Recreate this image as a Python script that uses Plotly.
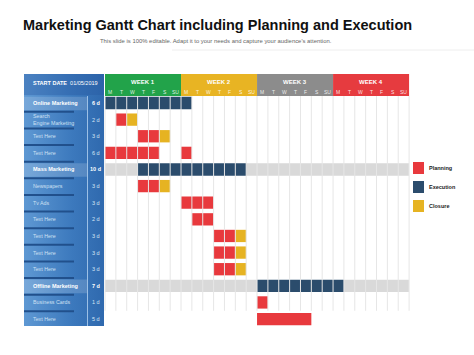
import plotly.graph_objects as go

# ---------------- data ----------------
row_labels = ["Online Marketing", "Search<br>Engine Marketing", "Text Here", "Text Here",
              "Mass Marketing", "Newspapers", "Tv Ads", "Text Here", "Text Here",
              "Text Here", "Text Here", "Offline Marketing", "Business Cards", "Text Here"]
row_durations = ["6 d", "2 d", "3 d", "6 d", "10 d", "3 d", "3 d", "2 d", "3 d",
                 "3 d", "3 d", "7 d", "1 d", "5 d"]
category_rows = [0, 4, 11]

week_labels = ["WEEK 1", "WEEK 2", "WEEK 3", "WEEK 4"]
week_colors = ["#22A34A", "#E8B423", "#8C8C8C", "#E63B3F"]
day_letters = ["M", "T", "W", "T", "F", "S", "SU"]
start_date = "01/05/2019"

# segments: row index, start day, length (days)
planning_rows = [1, 2, 3, 3, 5, 6, 7, 8, 9, 10, 12, 13]
planning_start = [1, 3, 0, 7, 3, 7, 8, 10, 10, 10, 14, 14]
planning_len = [1, 2, 5, 1, 2, 3, 2, 2, 2, 2, 1, 5]

execution_rows = [0, 4, 11]
execution_start = [0, 3, 14]
execution_len = [8, 10, 8]

closure_rows = [1, 2, 5, 8, 9, 10]
closure_start = [2, 5, 5, 12, 12, 12]
closure_len = [1, 1, 1, 1, 1, 1]

idle_rows = [4, 4, 11, 11]
idle_start = [0, 13, 0, 22]
idle_len = [3, 15, 14, 6]

legend_names = ["Planning", "Execution", "Closure"]
legend_colors = ["#E8393D", "#2B4C6C", "#E6B322"]

# ---------------- geometry ----------------
W, H = 474, 355
X0, DW = 105.0, 10.86     # px of day 0, px per day
Y0, RH = 103.0, 16.62     # px of row-0 centre, px per row
N_DAYS = 28


def px_x(p):
    return (p - X0) / DW


def px_y(p):
    return (p - Y0) / RH


fig = go.Figure()

# left panel gradient background
panel_x0, panel_x1, panel_y0, panel_y1 = 24, 104, 74, 326
fig.add_trace(go.Scatter(
    x=[px_x(panel_x0), px_x(panel_x1), px_x(panel_x1), px_x(panel_x0), px_x(panel_x0)],
    y=[px_y(panel_y0), px_y(panel_y0), px_y(panel_y1), px_y(panel_y1), px_y(panel_y0)],
    fill="toself", mode="lines", line=dict(width=0),
    fillgradient=dict(type="horizontal",
                      colorscale=[[0, "#5E98D3"], [0.6, "#3C79BD"], [1, "#2F69AE"]]),
    hoverinfo="skip", showlegend=False))

bar_w = 0.74


def add_bars(rows, starts, lens, color, name):
    fig.add_trace(go.Bar(orientation="h", y=rows, x=lens, base=starts, width=bar_w,
                         marker=dict(color=color, line=dict(width=0)),
                         name=name, showlegend=False, hoverinfo="skip"))


add_bars(idle_rows, idle_start, idle_len, "#D9D9D9", "Idle")
add_bars(planning_rows, planning_start, planning_len, legend_colors[0], "Planning")
add_bars(execution_rows, execution_start, execution_len, legend_colors[1], "Execution")
add_bars(closure_rows, closure_start, closure_len, legend_colors[2], "Closure")

shapes = []
annotations = []
FONT = "Liberation Sans, Arial"

# header week bands
hdr_top, hdr_bot = px_y(74), px_y(96)
for w, (lab, col) in enumerate(zip(week_labels, week_colors)):
    shapes.append(dict(type="rect", xref="x", yref="y", x0=w * 7, x1=w * 7 + 7,
                       y0=hdr_top, y1=hdr_bot, fillcolor=col, line=dict(width=0),
                       layer="above"))
    annotations.append(dict(xref="x", yref="y", x=w * 7 + 3.5, y=px_y(81.5), text="<b>%s</b>" % lab,
                            showarrow=False, font=dict(size=6, color="white", family=FONT)))
    for d, letter in enumerate(day_letters):
        annotations.append(dict(xref="x", yref="y", x=w * 7 + d + 0.5, y=px_y(91.5), text=letter,
                                showarrow=False, font=dict(size=5, color="rgba(255,255,255,0.85)",
                                                            family=FONT)))

# vertical grid lines over grid area (rows 0..12)
for d in range(N_DAYS + 1):
    shapes.append(dict(type="line", xref="x", yref="y", x0=d, x1=d, y0=hdr_bot, y1=12.5,
                       line=dict(color="#E6E6E6", width=1), layer="above"))

# left panel header band
shapes.append(dict(type="rect", xref="x", yref="y", x0=px_x(24), x1=px_x(104),
                   y0=px_y(74), y1=px_y(95), fillcolor="rgba(40,90,160,0.35)",
                   line=dict(width=0), layer="above"))
annotations.append(dict(xref="x", yref="y", x=px_x(31), y=px_y(83), xanchor="left",
                        text="<b>START DATE</b>  " + start_date, showarrow=False,
                        font=dict(size=5.5, color="white", family=FONT)))

# rows in left panel
for i, (lab, dur) in enumerate(zip(row_labels, row_durations)):
    top = Y0 + RH * (i - 0.5)
    is_cat = i in category_rows
    if is_cat:
        shapes.append(dict(type="rect", xref="x", yref="y", x0=px_x(24), x1=px_x(87),
                           y0=px_y(top + 2), y1=px_y(top + RH - 1),
                           fillcolor="rgba(255,255,255,0.16)", line=dict(width=0), layer="above"))
    if i > 0:
        shapes.append(dict(type="line", xref="x", yref="y", x0=px_x(24), x1=px_x(74),
                           y0=px_y(top + 0.5), y1=px_y(top + 0.5),
                           line=dict(color="#21508C", width=2), layer="above"))
    annotations.append(dict(xref="x", yref="y", x=px_x(31), y=i, xanchor="left", align="left",
                            text=("<b>%s</b>" % lab) if is_cat else lab, showarrow=False,
                            font=dict(size=5.5 if is_cat else 5.3,
                                      color="white" if is_cat else "#CFE0F3", family=FONT)))
    annotations.append(dict(xref="x", yref="y", x=px_x(95.5), y=i,
                            text=("<b>%s</b>" % dur) if is_cat else dur, showarrow=False,
                            font=dict(size=5.5, color="white" if is_cat else "#D6E5F5",
                                      family=FONT)))

# duration column separator
shapes.append(dict(type="line", xref="x", yref="y", x0=px_x(87.5), x1=px_x(87.5),
                   y0=px_y(96), y1=px_y(326), line=dict(color="#9CC0E6", width=1), layer="above"))

# legend
leg_tops = [162, 181, 200]
for name, col, t in zip(legend_names, legend_colors, leg_tops):
    shapes.append(dict(type="rect", xref="x", yref="y", x0=px_x(413), x1=px_x(424),
                       y0=px_y(t), y1=px_y(t + 12), fillcolor=col, line=dict(width=0)))
    annotations.append(dict(xref="x", yref="y", x=px_x(427), y=px_y(t + 6), xanchor="left",
                            text="<b>%s</b>" % name, showarrow=False,
                            font=dict(size=5.5, color="#222222", family=FONT)))

# subtitle underline shadow
shapes.append(dict(type="line", xref="paper", yref="paper", x0=172 / W, x1=1,
                   y0=1 - 50 / H, y1=1 - 50 / H, line=dict(color="#EEEEEE", width=1)))

# title + subtitle
annotations.append(dict(xref="paper", yref="paper", x=217 / W, y=1 - 25 / H,
                        xanchor="center", yanchor="middle",
                        text="<b>Marketing Gantt Chart including Planning and Execution</b>",
                        showarrow=False,
                        font=dict(size=14.5, color="#111111", family=FONT)))
annotations.append(dict(xref="paper", yref="paper", x=216 / W, y=1 - 41 / H,
                        xanchor="center", yanchor="middle",
                        text="This slide is 100% editable. Adapt it to your needs and capture your audience's attention.",
                        showarrow=False,
                        font=dict(size=5.9, color="#666666", family=FONT)))

fig.update_layout(
    width=W, height=H, margin=dict(l=0, r=0, t=0, b=0),
    paper_bgcolor="white", plot_bgcolor="white",
    barmode="overlay", showlegend=False,
    xaxis=dict(range=[px_x(0), px_x(W)], visible=False, fixedrange=True),
    yaxis=dict(range=[px_y(H), px_y(0)], visible=False, fixedrange=True),
    shapes=shapes, annotations=annotations,
)

fig.write_html("out.html", config={"displayModeBar": False},
               post_script="document.body.style.margin='0';document.body.style.overflow='hidden';")
